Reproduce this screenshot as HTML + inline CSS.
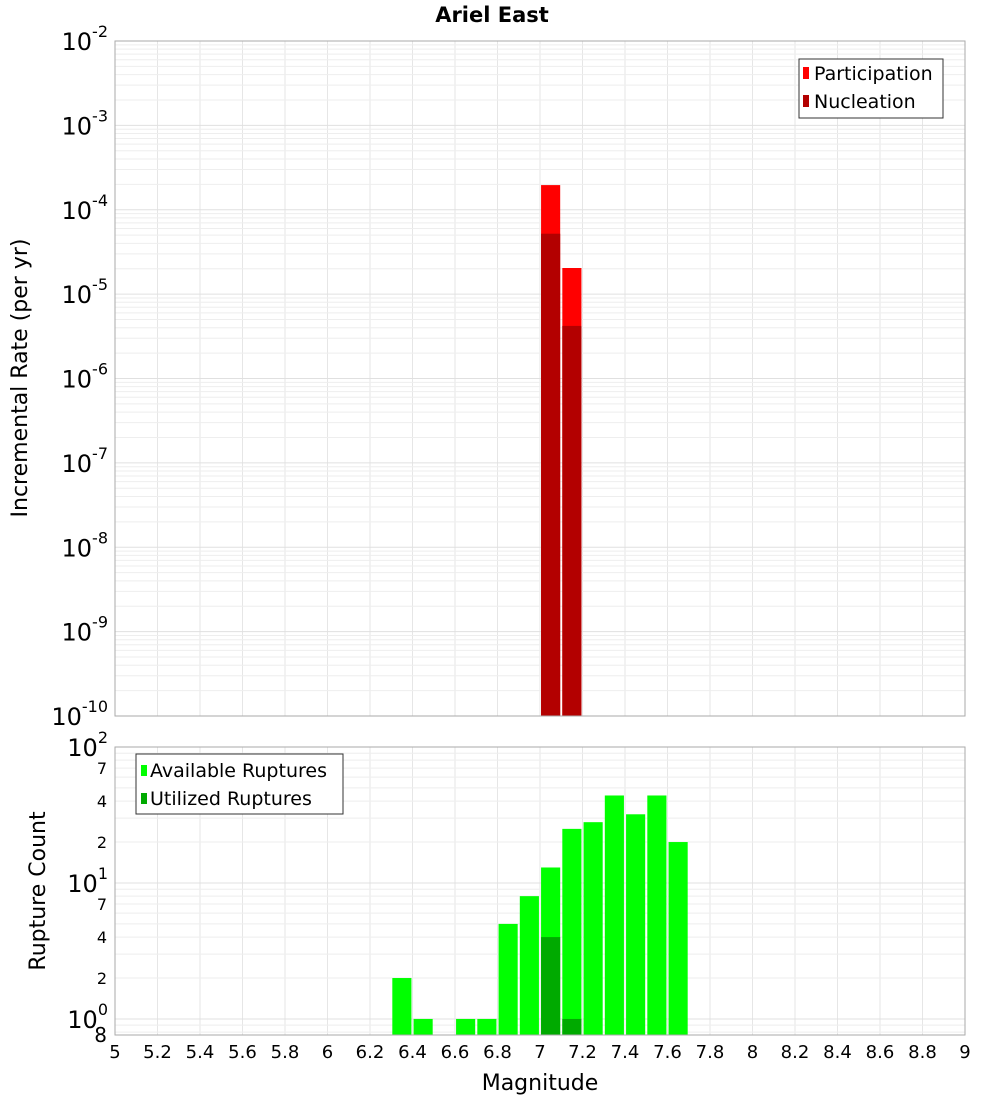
<!DOCTYPE html>
<html><head><meta charset="utf-8">
<style>
body{margin:0;background:#fff;}
svg{display:block;font-family:"DejaVu Sans","Liberation Sans",sans-serif;}
</style></head>
<body>
<svg id="chart" width="1000" height="1100" viewBox="0 0 1000 1100" xmlns="http://www.w3.org/2000/svg">
<text x="492" y="22" text-anchor="middle" font-size="21" font-weight="bold">Ariel East</text>
<g id="topG"></g>
<g id="botG"></g>
<text transform="translate(27,378) rotate(-90)" text-anchor="middle" font-size="22">Incremental Rate (per yr)</text>
<text transform="translate(45,891) rotate(-90)" text-anchor="middle" font-size="22">Rupture Count</text>
<text x="540" y="1090" text-anchor="middle" font-size="22">Magnitude</text>
<g>
<rect x="799" y="59" width="144" height="59" fill="#fff" stroke="#333"/>
<rect x="803" y="67" width="6" height="12" fill="#ff0000"/>
<text x="814" y="80" font-size="19">Participation</text>
<rect x="803" y="95" width="6" height="12" fill="#b30000"/>
<text x="814" y="108" font-size="19">Nucleation</text>
</g>
<g>
<rect x="136" y="754" width="207" height="60" fill="#fff" stroke="#333"/>
<rect x="141" y="765" width="6" height="11" fill="#00ff00"/>
<text x="150" y="777" font-size="19">Available Ruptures</text>
<rect x="141" y="793" width="6" height="11" fill="#00aa00"/>
<text x="150" y="805" font-size="19">Utilized Ruptures</text>
</g>
</svg>
<script>
const magBins=[7.0,7.1];
const participation=[1.96e-4,2.04e-5];
const nucleation=[5.2e-5,4.2e-6];
const countBins=[6.3,6.4,6.5,6.6,6.7,6.8,6.9,7.0,7.1,7.2,7.3,7.4,7.5,7.6];
const available=[2,1,0,1,1,5,8,13,25,28,44,32,44,20];
const utilizedBins=[7.0,7.1];
const utilized=[4,1];
const xTicks=[5,5.2,5.4,5.6,5.8,6,6.2,6.4,6.6,6.8,7,7.2,7.4,7.6,7.8,8,8.2,8.4,8.6,8.8,9];
const topDecades=[-2,-3,-4,-5,-6,-7,-8,-9,-10];
const botDecades=[2,1,0];
const botMinor=[2,4,7];

const NS="http://www.w3.org/2000/svg";
const X0=115,X1=965;
const xs=m=>X0+(m-5)/4*(X1-X0);
const TT=41,TB=716,yTop=v=>TT+(-2-Math.log10(v))/8*(TB-TT);
const BT=747,BB=1035,BLmax=2,BLmin=-0.118;
const yBot=v=>BT+(BLmax-Math.log10(v))/(BLmax-BLmin)*(BB-BT);
function el(p,t,a){const e=document.createElementNS(NS,t);for(const k in a)e.setAttribute(k,a[k]);p.appendChild(e);return e;}
const topG=document.getElementById('topG'),botG=document.getElementById('botG');

function grid(g,T,B,yf,lo,hi){
  for(let i=0;i<=20;i++){const m=5+i*0.2;const l=el(g,'line',{x1:xs(m),x2:xs(m),y1:T,y2:B,stroke:'#e6e6e6'});
  
  }
  for(let d=lo;d<=hi;d++)for(let k=1;k<10;k++){const v=k*Math.pow(10,d);const y=yf(v);if(y<T-0.5||y>B+0.5)continue;
  const l=el(g,'line',{x1:X0,x2:X1,y1:y,y2:y,stroke:k==1?'#e0e0e0':'#eeeeee'});
  
  }
}
grid(topG,TT,TB,yTop,-10,-3);
grid(botG,BT,BB,yBot,-1,1);

magBins.forEach((m,i)=>{
  const w=xs(m+0.095)-xs(m+0.005);
  let r=el(topG,'rect',{x:xs(m+0.005),y:yTop(participation[i]),width:w,height:TB-yTop(participation[i]),fill:'#ff0000'});
  
  
  r=el(topG,'rect',{x:xs(m+0.005),y:yTop(nucleation[i]),width:w,height:TB-yTop(nucleation[i]),fill:'#b30000'});
  
  
});
countBins.forEach((m,i)=>{
  if(available[i]<=0)return;
  const r=el(botG,'rect',{x:xs(m+0.005),y:yBot(available[i]),width:xs(m+0.095)-xs(m+0.005),height:BB-yBot(available[i]),fill:'#00ff00'});
  
  
});
utilizedBins.forEach((m,i)=>{
  const r=el(botG,'rect',{x:xs(m+0.005),y:yBot(utilized[i]),width:xs(m+0.095)-xs(m+0.005),height:BB-yBot(utilized[i]),fill:'#00aa00'});
  
  
});
let f=el(topG,'rect',{x:X0,y:TT,width:X1-X0,height:TB-TT,fill:'none',stroke:'#aaa'});


f=el(botG,'rect',{x:X0,y:BT,width:X1-X0,height:BB-BT,fill:'none',stroke:'#aaa'});



function decLabel(g,y,exp,name){
  const t=el(g,'text',{x:108,y:y+9,'text-anchor':'end','font-size':24});
  
  
  const a=el(t,'tspan',{});a.textContent='10';
  const b=el(t,'tspan',{'font-size':16,dy:-13});b.textContent=String(exp);
}
topDecades.forEach(d=>decLabel(topG,yTop(Math.pow(10,d)),d,'top-y-tick-label'));
botDecades.forEach(d=>decLabel(botG,yBot(Math.pow(10,d)),d,'bottom-y-tick-label'));
[1,0].forEach(d=>botMinor.forEach(k=>{
  const t=el(botG,'text',{x:107,y:yBot(k*Math.pow(10,d))+6,'text-anchor':'end','font-size':16});
  
  
  t.textContent=String(k);
}));
{const t=el(botG,'text',{x:107,y:1042,'text-anchor':'end','font-size':20});


t.textContent='8';}
xTicks.forEach(m=>{
  const t=el(botG,'text',{x:xs(m),y:1058,'text-anchor':'middle','font-size':18});
  
  
  t.textContent=String(m);
});
</script>
</body></html>
